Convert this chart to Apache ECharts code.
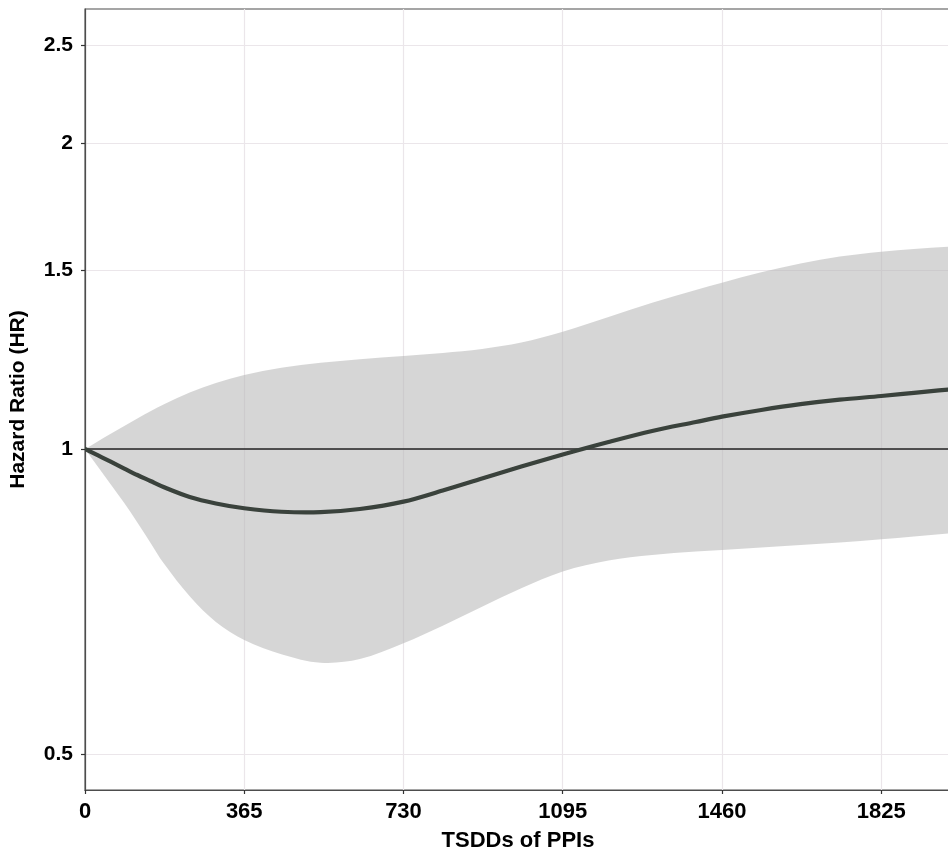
<!DOCTYPE html>
<html>
<head>
<meta charset="utf-8">
<script src="https://cdn.jsdelivr.net/npm/echarts@6/dist/echarts.min.js"></script>
<style>
html,body{margin:0;padding:0;background:#fff;}
#chart{width:948px;height:849px;}
</style>
</head>
<body>
<div id="chart"></div>
<script>
// Days since start (TSDDs)
const days  = [0,30,60,90,120,150,180,240,300,365,450,540,630,730,820,910,1000,1095,1200,1300,1400,1460,1550,1640,1730,1825,1900,1985];
// Hazard ratio estimate
const hr    = [1,0.9854,0.9710,0.9567,0.9427,0.9300,0.9174,0.8969,0.8838,0.8742,0.8673,0.8665,0.8728,0.8874,0.9102,0.9353,0.9611,0.9876,1.0160,1.0417,1.0631,1.0760,1.0925,1.1069,1.1183,1.1277,1.1359,1.1450];
// Upper and lower 95% CI
const upper = [1,1.0178,1.0358,1.0535,1.0716,1.0893,1.1062,1.1367,1.1617,1.1827,1.2022,1.2159,1.2258,1.2348,1.2435,1.2545,1.2729,1.3047,1.3490,1.3931,1.4341,1.4581,1.4929,1.5226,1.5473,1.5642,1.5742,1.5820];
const lower = [1,0.9600,0.9216,0.8847,0.8465,0.8085,0.7720,0.7160,0.6755,0.6485,0.6280,0.6160,0.6211,0.6437,0.6699,0.6994,0.7292,0.7575,0.7766,0.7863,0.7926,0.7953,0.7998,0.8044,0.8089,0.8148,0.8200,0.8260];
// Tick labels
const xTicks = [0,365,730,1095,1460,1825];
const yTicks = [0.5,1,1.5,2,2.5];
const xMax = 1985;
const yMin = 0.4615, yMax = 2.712;

const ln = Math.log;
const yTickLn = yTicks.map(ln);
const curveData = days.map((d,i)=>[d, ln(hr[i])]);
const bandData = days.map((d,i)=>[d, ln(lower[i]), ln(upper[i])]);

// cubic Hermite (x-monotone) path through pixel points
function hermite(pts, withMove){
  const n = pts.length, m = [];
  for(let i=0;i<n;i++){
    const a = pts[Math.max(0,i-1)], b = pts[Math.min(n-1,i+1)];
    m.push((b[1]-a[1])/(b[0]-a[0]));
  }
  let s = withMove ? 'M'+pts[0][0]+','+pts[0][1] : ' L'+pts[0][0]+','+pts[0][1];
  for(let i=0;i<n-1;i++){
    const p1=pts[i], p2=pts[i+1], h=(p2[0]-p1[0])/3;
    s+=' C'+(p1[0]+h)+','+(p1[1]+m[i]*h)+' '+(p2[0]-h)+','+(p2[1]-m[i+1]*h)+' '+p2[0]+','+p2[1];
  }
  return s;
}

function renderBand(params, api){
  if(params.dataIndexInside!==0) return null;
  const n = params.dataInsideLength;
  const up=[], lo=[];
  for(let i=0;i<n;i++){
    const x=api.value(0,i);
    up.push(api.coord([x, api.value(2,i)]));
    lo.push(api.coord([x, api.value(1,i)]));
  }
  const d = hermite(up,true) + hermite(lo.slice().reverse(),false) + ' Z';
  return {type:'path', shape:{pathData:d}, style:{fill:'rgba(180,180,180,0.55)', stroke:null}};
}
function renderCurve(params, api){
  if(params.dataIndexInside!==0) return null;
  const n = params.dataInsideLength, pts=[];
  for(let i=0;i<n;i++) pts.push(api.coord([api.value(0,i), api.value(1,i)]));
  return {type:'path', shape:{pathData:hermite(pts,true)},
    style:{fill:null, stroke:'#3a423c', lineWidth:4.2, lineCap:'round', lineJoin:'round'}};
}

const chart = echarts.init(document.getElementById('chart'), null, {renderer:'canvas'});
const fam = 'Liberation Sans, Arial, sans-serif';
chart.setOption({
  animation:false,
  backgroundColor:'#fff',
  grid:{left:85, top:9, right:-3, bottom:59, show:true, borderColor:'#4d4d4d', borderWidth:1.2,
        containLabel:false, outerBoundsMode:'none'},
  xAxis:{
    type:'value', min:0, max:xMax,
    name:'TSDDs of PPIs', nameLocation:'middle', nameGap:40,
    nameTextStyle:{fontFamily:fam, fontWeight:'bold', fontSize:22, color:'#000'},
    axisLine:{show:true, onZero:false, lineStyle:{color:'#4d4d4d', width:1.2}},
    axisTick:{show:true, length:4, customValues:xTicks, lineStyle:{color:'#333', width:1.2}},
    axisLabel:{margin:11, customValues:xTicks, formatter:v=>String(v), fontFamily:fam, fontWeight:'bold', fontSize:22, color:'#000'},
    splitLine:{show:true, lineStyle:{color:'#ebe6ea', width:1.2}}
  },
  yAxis:{
    type:'value', min:ln(yMin), max:ln(yMax),
    name:'Hazard Ratio (HR)', nameLocation:'middle', nameGap:56,
    nameTextStyle:{fontFamily:fam, fontWeight:'bold', fontSize:21, color:'#000'},
    axisLine:{show:true, onZero:false, lineStyle:{color:'#4d4d4d', width:1.2}},
    axisTick:{show:true, length:4, customValues:yTickLn, lineStyle:{color:'#333', width:1.2}},
    axisLabel:{margin:12, customValues:yTickLn, fontFamily:fam, fontWeight:'bold', fontSize:21, color:'#000',
      formatter:v=>{
        let best=0, bd=1e9; yTickLn.forEach((t,i)=>{const dd=Math.abs(t-v); if(dd<bd){bd=dd;best=i;}});
        return String(yTicks[best]);
      }},
    splitLine:{show:true, lineStyle:{color:'#ebe6ea', width:1.2}}
  },
  series:[
    {type:'custom', name:'CI', data:bandData, renderItem:renderBand, clip:true, silent:true, z:1,
     encode:{x:0, y:[1,2]}},
    {type:'line', name:'ref', data:[[0,0],[xMax,0]], symbol:'none', silent:true,
     lineStyle:{color:'#222', width:1.6}, z:2},
    {type:'custom', name:'HR', data:curveData, renderItem:renderCurve, clip:true, silent:true, z:3,
     encode:{x:0, y:1}}
  ]
});
</script>
</body>
</html>
